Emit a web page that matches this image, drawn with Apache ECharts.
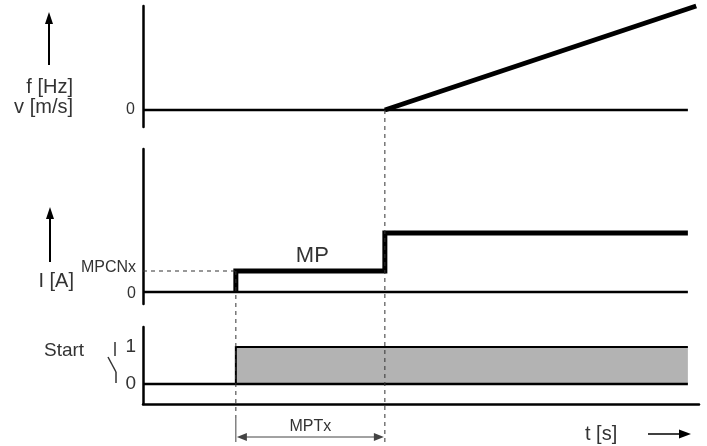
<!DOCTYPE html>
<html>
<head>
<meta charset="utf-8">
<script src="https://cdn.jsdelivr.net/npm/echarts@6/dist/echarts.min.js"></script>
<style>
  html, body { margin: 0; padding: 0; background: #fff; }
  #main { width: 707px; height: 446px; }
</style>
</head>
<body>
<div id="main"></div>
<script>
// time points (arbitrary units, 0..100 across the time axis)
var tStart = 16.7;      // start signal / MPCNx step
var tRise = 43.5;       // end of MPTx, frequency ramp begins
var tEnd = 98;          // end of drawn traces
var tRampEnd = 99.5;

// frequency / speed trace
var freqT = [tRise, tRampEnd];
var freqV = [0, 104];

// current trace
var currT = [tStart, tStart, tRise, tRise, tEnd];
var currV = [0, 21, 21, 59, 59];
var mpcnLevel = 21;

// start signal
var startT = [tStart, tStart, tEnd];
var startV = [0, 1, 1];

// zero reference lines
var zeroT = [0, tEnd];
var zeroV = [0, 0];

// axis labels
var freqTicks = [0];
var currTicks = [0, 21];
var startTicks = [0, 1];

function pairs(xs, ys) {
    var out = [];
    for (var i = 0; i < xs.length; i++) {
        out.push([xs[i], ys[i]]);
    }
    return out;
}

var txt = '#333';
var font = 'Liberation Sans, Arial, sans-serif';

var myChart = echarts.init(document.getElementById('main'));

var option = {
    animation: false,
    grid: [
        { left: 143, right: 8, top: 6, height: 121 },
        { left: 143, right: 8, top: 149, height: 155 },
        { left: 143, right: 8, top: 327, height: 77 }
    ],
    xAxis: [
        { gridIndex: 0, type: 'value', min: 0, max: 100, show: false },
        { gridIndex: 1, type: 'value', min: 0, max: 100, show: false },
        {
            gridIndex: 2, type: 'value', min: 0, max: 100,
            axisLine: { show: true, onZero: false, lineStyle: { color: '#000', width: 2.5 } },
            axisTick: { show: false }, axisLabel: { show: false }, splitLine: { show: false }
        }
    ],
    yAxis: [
        {
            gridIndex: 0, type: 'value', min: -17, max: 104,
            axisLine: { show: true, lineStyle: { color: '#000', width: 2.5 } },
            axisTick: { show: false }, splitLine: { show: false },
            axisLabel: {
                customValues: freqTicks, margin: 8,
                formatter: function (v) { return '{n|' + v + '}'; },
                rich: { n: { color: txt, fontFamily: font, fontSize: 16 } }
            }
        },
        {
            gridIndex: 1, type: 'value', min: -12, max: 143,
            axisLine: { show: true, lineStyle: { color: '#000', width: 2.5 } },
            axisTick: { show: false }, splitLine: { show: false },
            axisLabel: {
                customValues: currTicks, margin: 7,
                formatter: function (v) {
                    return v == mpcnLevel ? '{s|MPCNx}' : '{n|0}';
                },
                rich: {
                    s: { color: txt, fontFamily: font, fontSize: 16, padding: [0, 0, 6, 0] },
                    n: { color: txt, fontFamily: font, fontSize: 16, padding: [3, 0, 0, 0] }
                }
            }
        },
        {
            gridIndex: 2, type: 'value', min: -20 / 37, max: 57 / 37,
            axisLine: { show: true, lineStyle: { color: '#000', width: 2.5 } },
            axisTick: { show: false }, splitLine: { show: false },
            axisLabel: { customValues: startTicks, color: txt, fontFamily: font, fontSize: 19, margin: 7 }
        }
    ],
    series: [
        {
            type: 'line', xAxisIndex: 0, yAxisIndex: 0, data: pairs(zeroT, zeroV),
            symbol: 'none', lineStyle: { color: '#000', width: 2.5 }
        },
        {
            type: 'line', xAxisIndex: 0, yAxisIndex: 0, data: pairs(freqT, freqV),
            symbol: 'none', clip: false, lineStyle: { color: '#000', width: 5 }
        },
        {
            type: 'line', xAxisIndex: 1, yAxisIndex: 1, data: pairs(zeroT, zeroV),
            symbol: 'none', lineStyle: { color: '#000', width: 2.5 }
        },
        {
            type: 'line', xAxisIndex: 1, yAxisIndex: 1, data: pairs(currT, currV),
            symbol: 'none', lineStyle: { color: '#000', width: 5, join: 'miter' }
        },
        {
            type: 'line', xAxisIndex: 2, yAxisIndex: 2, data: pairs(startT, startV),
            symbol: 'none', lineStyle: { color: '#000', width: 2, join: 'miter' },
            areaStyle: { color: '#b3b3b3', opacity: 1 }
        },
        {
            type: 'line', xAxisIndex: 2, yAxisIndex: 2, data: pairs(zeroT, zeroV),
            symbol: 'none', lineStyle: { color: '#000', width: 2.5 }
        }
    ]
};
myChart.setOption(option);

// annotation lines and labels placed from the axes
var pTopZero = myChart.convertToPixel({ gridIndex: 0 }, [tRise, 0]);
var pMpcnAxis = myChart.convertToPixel({ gridIndex: 1 }, [0, mpcnLevel]);
var pMpcn = myChart.convertToPixel({ gridIndex: 1 }, [tStart, mpcnLevel]);
var pMpcnEnd = myChart.convertToPixel({ gridIndex: 1 }, [tRise, mpcnLevel]);
var pBottom = myChart.convertToPixel({ gridIndex: 2 }, [tStart, -20 / 37]);
var x1 = pMpcn[0], x2 = pTopZero[0];
var yArrow = 437;
var dash = { stroke: '#333', lineWidth: 1, lineDash: [4, 4] };
var thin = { stroke: '#444', lineWidth: 1 };

function text(str, x, y, size, align) {
    return {
        type: 'text', x: x, y: y, z: 10,
        style: { text: str, fill: txt, font: size + 'px ' + font, textAlign: align || 'left', textVerticalAlign: 'middle' }
    };
}
function line(xa, ya, xb, yb, st) {
    return { type: 'line', z: 5, shape: { x1: xa, y1: ya, x2: xb, y2: yb }, style: st };
}
function head(pts, col) {
    return { type: 'polygon', z: 6, shape: { points: pts }, style: { fill: col } };
}

myChart.setOption({
    graphic: [
        line(pMpcnAxis[0], pMpcnAxis[1], x1, pMpcn[1], dash),
        line(x1, pMpcn[1], x1, pBottom[1] + 14, dash),
        line(x1, pBottom[1] + 14, x1, 442, thin),
        line(x2, pTopZero[1], x2, 443, dash),
        // MPTx dimension
        line(x1 + 4, yArrow, x2 - 4, yArrow, thin),
        head([[x1 + 1, yArrow], [x1 + 11, yArrow - 4], [x1 + 11, yArrow + 4]], '#444'),
        head([[x2 - 1, yArrow], [x2 - 11, yArrow - 4], [x2 - 11, yArrow + 4]], '#444'),
        text('MPTx', (x1 + x2) / 2, 427, 16, 'center'),
        text('MP', (pMpcn[0] + pMpcnEnd[0]) / 2 + 2, pMpcn[1] - 15, 22, 'center'),
        // left side labels
        line(49, 65, 49, 20, { stroke: '#000', lineWidth: 2 }),
        head([[49, 12], [45, 24], [53, 24]], '#000'),
        text('f [Hz]', 73, 87, 20, 'right'),
        text('v [m/s]', 73, 107, 20, 'right'),
        line(50, 262, 50, 215, { stroke: '#000', lineWidth: 2 }),
        head([[50, 207], [46, 219], [54, 219]], '#000'),
        text('I [A]', 74, 281, 20, 'right'),
        text('Start', 44, 351, 19, 'left'),
        line(115, 342, 115, 356, { stroke: '#333', lineWidth: 1.5 }),
        line(108, 357, 116, 372, { stroke: '#333', lineWidth: 1.5 }),
        line(116, 372, 116, 383, { stroke: '#333', lineWidth: 1.5 }),
        // time axis label
        text('t [s]', 585, 434, 20, 'left'),
        line(648, 434, 682, 434, { stroke: '#000', lineWidth: 1.5 }),
        head([[691, 434], [679, 429.5], [679, 438.5]], '#000')
    ]
});
</script>
</body>
</html>
